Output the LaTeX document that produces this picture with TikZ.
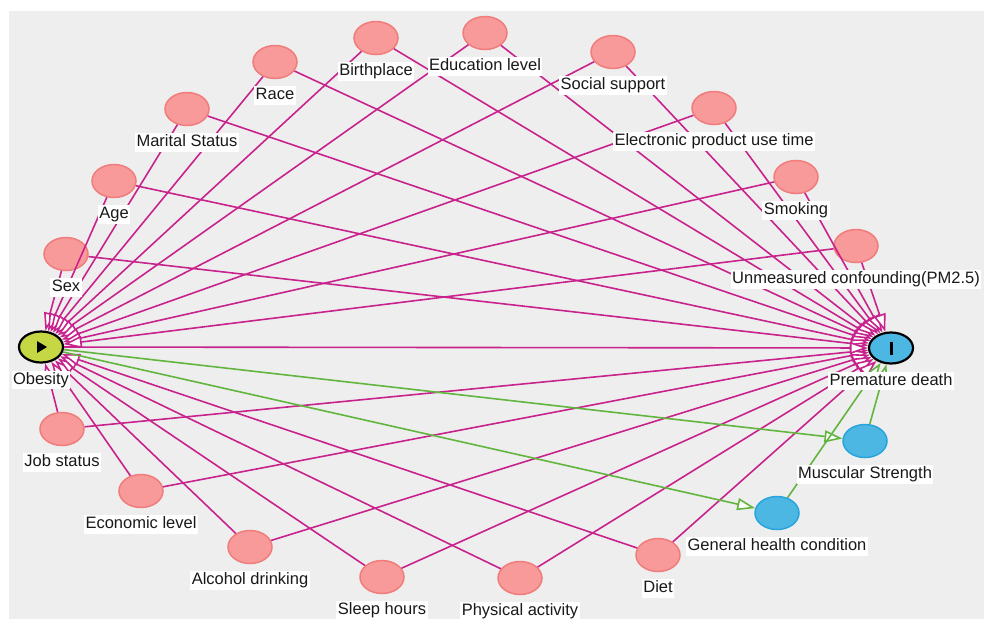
\documentclass[tikz,border=0pt]{standalone}
\usepackage{fontspec}
\setmainfont{Liberation Sans}
\usetikzlibrary{arrows.meta,positioning,shapes.geometric}

\definecolor{bggray}{HTML}{EEEEEE}
\definecolor{confill}{HTML}{F89A9A}
\definecolor{condraw}{HTML}{F07C7C}
\definecolor{outfill}{HTML}{4DB7E4}
\definecolor{outdraw}{HTML}{27A4DC}
\definecolor{expfill}{HTML}{C6D744}
\definecolor{biasline}{HTML}{C8238D}
\definecolor{causline}{HTML}{62B53E}

\tikzset{
  conf/.style={ellipse, minimum width=44pt, minimum height=33pt, inner sep=0pt, fill=confill, draw=condraw, line width=1.5pt},
  medi/.style={ellipse, minimum width=44pt, minimum height=33pt, inner sep=0pt, fill=outfill, draw=outdraw, line width=1.5pt},
  keyvar/.style={ellipse, minimum width=44pt, minimum height=31pt, inner sep=0pt, draw=black, line width=2.2pt},
  bias/.style={draw=biasline, line width=1.6pt, ->},
  causal/.style={draw=causline, line width=1.6pt, ->},
  lbl/.style={fill=white, inner sep=1.5pt, text=black!90, font=\fontsize{16.5}{18}\selectfont, text height=12pt, text depth=3.5pt}
}

\begin{document}
\begin{tikzpicture}[x=1pt, y=-1pt, >={Triangle[length=18pt, width=12pt, fill=white]}]
  \useasboundingbox (0,0) rectangle (984,619);
  \fill [bggray] (9,11) rectangle (984,619);

  % variables
  \node [keyvar, fill=expfill] (obesity) at (41,347) {};
  \node [keyvar, fill=outfill] (death) at (891,348) {};
  \node [conf] (sex) at (66,254) {};
  \node [conf] (age) at (114,181) {};
  \node [conf] (marital) at (187,109) {};
  \node [conf] (race) at (275,62) {};
  \node [conf] (birthplace) at (376,38) {};
  \node [conf] (education) at (485,33) {};
  \node [conf] (social) at (613,52) {};
  \node [conf] (electronic) at (714,108) {};
  \node [conf] (smoking) at (796,177) {};
  \node [conf] (pm) at (856,246) {};
  \node [conf] (job) at (62,429) {};
  \node [conf] (economic) at (141,491) {};
  \node [conf] (alcohol) at (250,547) {};
  \node [conf] (sleep) at (382,577) {};
  \node [conf] (physical) at (520,578) {};
  \node [conf] (diet) at (658,555) {};
  \node [medi] (health) at (777,513) {};
  \node [medi] (muscle) at (865,441) {};

  % symbols
  \fill (obesity.center) ++(-4,-6) -- ++(10,6) -- ++(-10,6) -- cycle;
  \draw [line width=3pt] (death.center) ++(0,-6.5) -- ++(0,13);

  % arrows
  \foreach \v in {sex,age,marital,race,birthplace,education,social,electronic,smoking,pm,job,economic,alcohol,sleep,physical,diet} {
    \draw [bias] (\v) -- (obesity);
    \draw [bias] (\v) -- (death);
  }
  \draw [bias] (obesity) -- (death);
  \draw [causal] (obesity) -- (muscle);
  \draw [causal] (obesity) -- (health);
  \draw [causal] (muscle) -- (death);
  \draw [causal] (health) -- (death);

  % labels
  \node [lbl, below=7pt of obesity] (obesitylbl) {Obesity};
  \node [lbl, below=7pt of death] (deathlbl) {Premature death};
  \node [lbl, below=7pt of sex] (sexlbl) {Sex};
  \node [lbl, below=7pt of age] (agelbl) {Age};
  \node [lbl, below=7pt of marital] (maritallbl) {Marital Status};
  \node [lbl, below=7pt of race] (racelbl) {Race};
  \node [lbl, below=7pt of birthplace] (birthplacelbl) {Birthplace};
  \node [lbl, below=7pt of education] (educationlbl) {Education level};
  \node [lbl, below=7pt of social] (sociallbl) {Social support};
  \node [lbl, below=7pt of electronic] (electroniclbl) {Electronic product use time};
  \node [lbl, below=7pt of smoking] (smokinglbl) {Smoking};
  \node [lbl, below=7pt of pm] (pmlbl) {Unmeasured confounding(PM2.5)};
  \node [lbl, below=7pt of job] (joblbl) {Job status};
  \node [lbl, below=7pt of economic] (economiclbl) {Economic level};
  \node [lbl, below=7pt of alcohol] (alcohollbl) {Alcohol drinking};
  \node [lbl, below=7pt of sleep] (sleeplbl) {Sleep hours};
  \node [lbl, below=7pt of physical] (physicallbl) {Physical activity};
  \node [lbl, below=7pt of diet] (dietlbl) {Diet};
  \node [lbl, below=7pt of health] (healthlbl) {General health condition};
  \node [lbl, below=7pt of muscle] (musclelbl) {Muscular Strength};
\end{tikzpicture}
\end{document}
